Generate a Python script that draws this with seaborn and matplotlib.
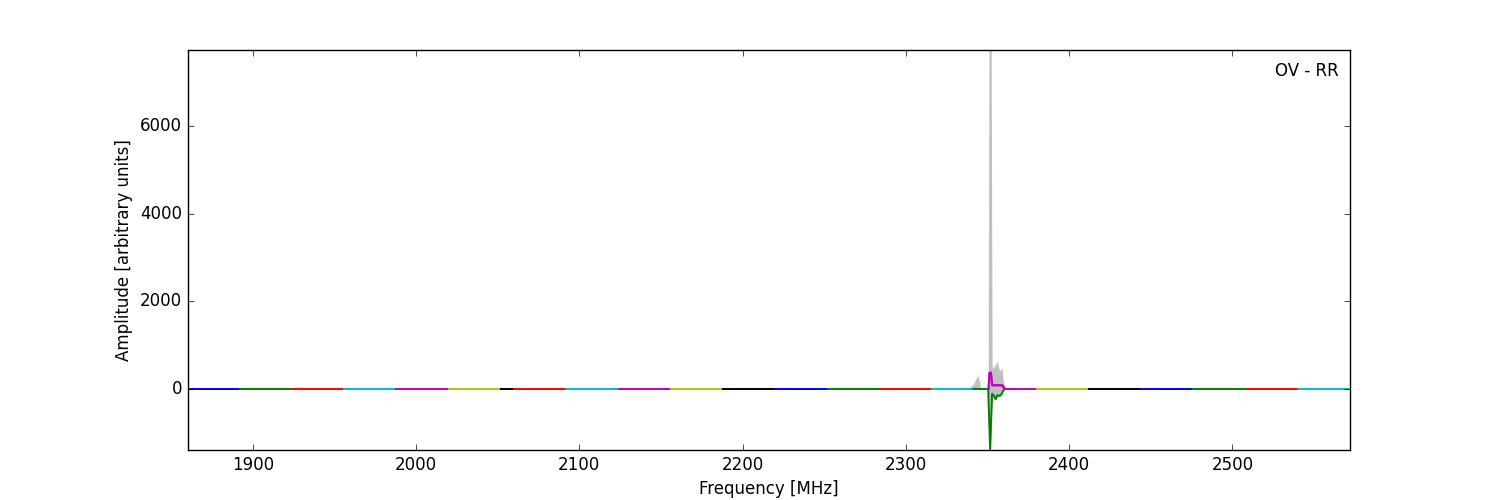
import matplotlib
matplotlib.use("Agg")
import matplotlib.pyplot as plt
import seaborn as sns
import numpy as np
import pandas as pd

# ---- data ----
seg_start = [1860, 1892, 1924, 1956, 1988, 2020, 2052, 2060, 2092, 2124, 2156, 2188,
             2220, 2252, 2284, 2316, 2348, 2380, 2412, 2444, 2476, 2508, 2540]
seg_end = [1892, 1924, 1956, 1988, 2020, 2052, 2060, 2092, 2124, 2156, 2188, 2220,
           2252, 2284, 2316, 2348, 2380, 2412, 2444, 2476, 2508, 2540, 2572]
seg_color = ["b", "g", "r", "c", "m", "y", "k", "r", "c", "m", "y", "k",
             "b", "g", "r", "c", "m", "y", "k", "b", "g", "r", "c"]

# magenta subband detail (2348-2380)
mag_freq = [2348.0, 2350.6, 2351.2, 2352.1, 2352.8, 2357.4, 2359.4, 2360.2, 2380.0]
mag_amp = [0, 0, 372, 372, 85, 85, 80, 0, 0]

# green trace around the RFI spike
grn_freq = [2341.4, 2350.4, 2351.6, 2352.8, 2354.0, 2355.0, 2356.1, 2357.4, 2358.6, 2359.5, 2360.4]
grn_amp = [0, 0, -1390, -107, -160, -235, -137, -160, -115, -45, 0]

# grey envelope (min / max)
grey_freq = [2336.0, 2338.0, 2341.4, 2342.5, 2344.1, 2345.2, 2345.8, 2347.0, 2350.2, 2350.4,
             2350.9, 2351.6, 2352.2, 2352.8, 2353.5, 2354.0, 2355.0, 2355.8, 2356.1, 2357.4,
             2358.6, 2358.9, 2359.5, 2360.4, 2362.0, 2364.0, 2366.0, 2368.0]
grey_upper = [0, 20, 110, 200, 312, 150, 20, 10, 40, 200,
              8200, 8200, 8200, 550, 450, 520, 560, 640, 600, 410,
              470, 480, 200, 60, 30, 40, 20, 0]
grey_lower = [0, 0, 0, 0, 0, 0, 0, 0, 0, 0,
              -600, -1390, -800, -107, -140, -160, -235, -160, -137, -160,
              -115, -100, -45, 0, 0, 0, 0, 0]

label_text = "OV - RR"
x_ticks = [1900, 2000, 2100, 2200, 2300, 2400, 2500]
y_ticks = [0, 2000, 4000, 6000]

# ---- build tables ----
rows = []
for i, (s, e) in enumerate(zip(seg_start, seg_end)):
    if seg_color[i] == "m" and s == 2348:
        for f, a in zip(mag_freq, mag_amp):
            rows.append((i, f, a))
    else:
        rows.append((i, s, 0.0))
        rows.append((i, e, 0.0))
seg_df = pd.DataFrame(rows, columns=["seg", "freq", "amp"])
grn_df = pd.DataFrame({"freq": grn_freq, "amp": grn_amp})

# ---- plot ----
plt.style.use("classic")
plt.rcParams["figure.facecolor"] = "white"
plt.rcParams["savefig.facecolor"] = "white"
plt.rcParams["font.family"] = ["DejaVu Sans"]

fig, ax = plt.subplots(figsize=(15, 5), dpi=100)
fig.subplots_adjust(left=0.125, right=0.9, bottom=0.1, top=0.9)

ax.fill_between(grey_freq, grey_lower, grey_upper, color="#c0c0c0", lw=0, zorder=1)

sns.lineplot(data=seg_df, x="freq", y="amp", hue="seg", units="seg",
             palette=seg_color, estimator=None, sort=False, legend=False,
             lw=1.4, ax=ax, zorder=2)
sns.lineplot(data=grn_df, x="freq", y="amp", color="g", estimator=None,
             sort=False, lw=1.4, ax=ax, zorder=3)
# magenta redrawn on top in the spike region
sns.lineplot(x=mag_freq[1:8], y=mag_amp[1:8], color="m", estimator=None,
             sort=False, lw=1.4, ax=ax, zorder=4)

ax.set_xlim(1860, 2572)
ax.set_ylim(-1390, 7730)
ax.set_xticks(x_ticks)
ax.set_yticks(y_ticks)
ax.set_xlabel("Frequency [MHz]")
ax.set_ylabel("Amplitude [arbitrary units]")
ax.text(0.99, 0.948, label_text, transform=ax.transAxes, ha="right", va="center", fontsize=12)

fig.savefig("out.png", dpi=100)
